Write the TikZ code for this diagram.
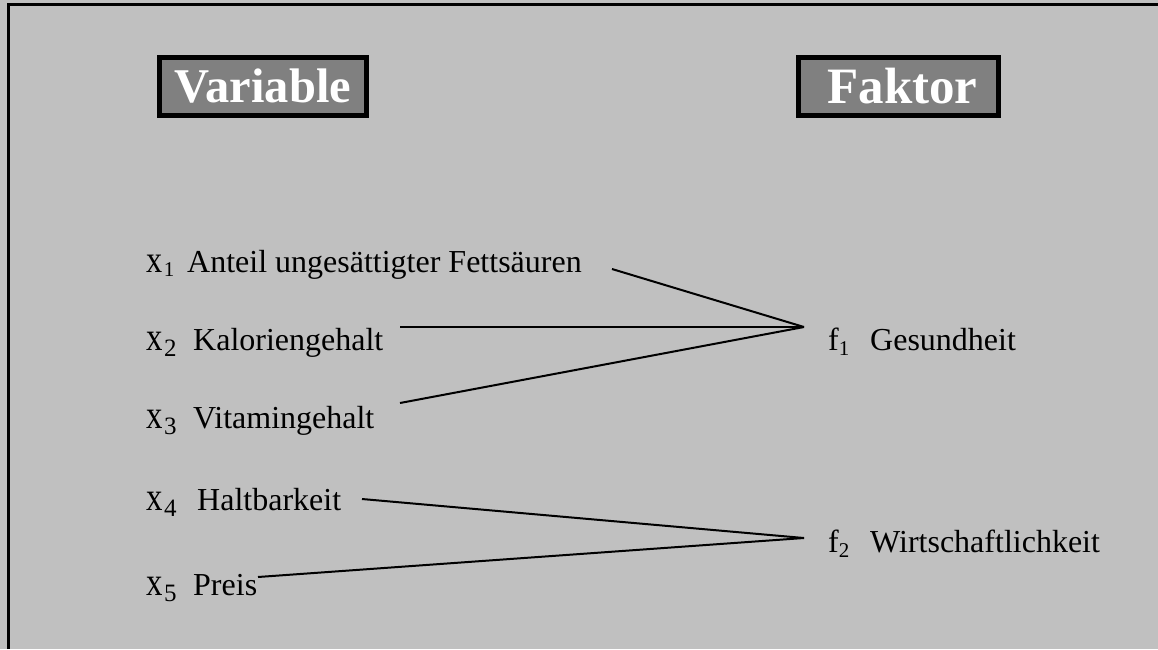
\documentclass[tikz,border=0pt]{standalone}
\usepackage{graphicx}
\usepackage{fontspec}
\setmainfont{Liberation Serif}
\definecolor{bggray}{RGB}{192,192,192}
\definecolor{hdrgray}{RGB}{128,128,128}
\newcommand\bigx[3]{\makebox[#1][l]{\scalebox{0.82}[1]{\fontsize{40}{40}\selectfont #2}\hspace{1.5pt}\raisebox{-6pt}{\fontsize{25}{25}\selectfont #3}}}
\newcommand\smallx[3]{\makebox[#1][l]{\scalebox{0.85}[1]{\fontsize{38}{38}\selectfont #2}\hspace{1.5pt}\raisebox{-4pt}{\fontsize{21}{21}\selectfont #3}}}
\newcommand\fsub[2]{\makebox[42pt][l]{#1\raisebox{-5pt}{\fontsize{21}{21}\selectfont #2}}}
\begin{document}
\begin{tikzpicture}[x=1pt,y=-1pt,
  lbl/.style={anchor=base west, inner sep=0pt, font=\fontsize{32}{40}\selectfont},
  hdr/.style={draw=black, line width=5pt, fill=hdrgray, text=white,
    font=\bfseries, inner sep=0pt, minimum height=58pt},
  conn/.style={line width=2pt}]
\fill[bggray] (0,0) rectangle (1158,649);
\useasboundingbox (0,0) rectangle (1158,649);
\draw[line width=3pt] (8.5,649) -- (8.5,4.5) -- (1158,4.5);

\node[hdr, minimum width=207pt] (var) at (263,86.5) {\fontsize{48.5}{56}\selectfont Variable};
\node[hdr, minimum width=200pt] (fak) at (898.5,86.5) {\fontsize{51}{56}\selectfont\hspace*{8pt}Faktor};

\node[lbl] (x1) at (146,272) {\smallx{41pt}{x}{1}Anteil ungesättigter Fettsäuren};
\node[lbl] (x2) at (146,350) {\bigx{47pt}{x}{2}Kaloriengehalt};
\node[lbl] (x3) at (146,428) {\bigx{47pt}{x}{3}Vitamingehalt};
\node[lbl] (x4) at (146,510) {\bigx{51pt}{x}{4}Haltbarkeit};
\node[lbl] (x5) at (146,595) {\bigx{47pt}{x}{5}Preis};
\node[lbl] (f1) at (828,350) {\fsub{f}{1}Gesundheit};
\node[lbl] (f2) at (828,552) {\fsub{f}{2}Wirtschaftlichkeit};

\coordinate (h1) at (804,327);
\coordinate (h2) at (804,538);
\coordinate (a1) at (612,269);
\coordinate (a2) at (400,327);
\coordinate (a3) at (400,403);
\coordinate (a4) at (362,499);
\coordinate (a5) at (258,577);

\draw[conn] (a1) -- (h1);
\draw[conn] (a2) -- (h1);
\draw[conn] (a3) -- (h1);
\draw[conn] (a4) -- (h2);
\draw[conn] (a5) -- (h2);
\end{tikzpicture}
\end{document}
